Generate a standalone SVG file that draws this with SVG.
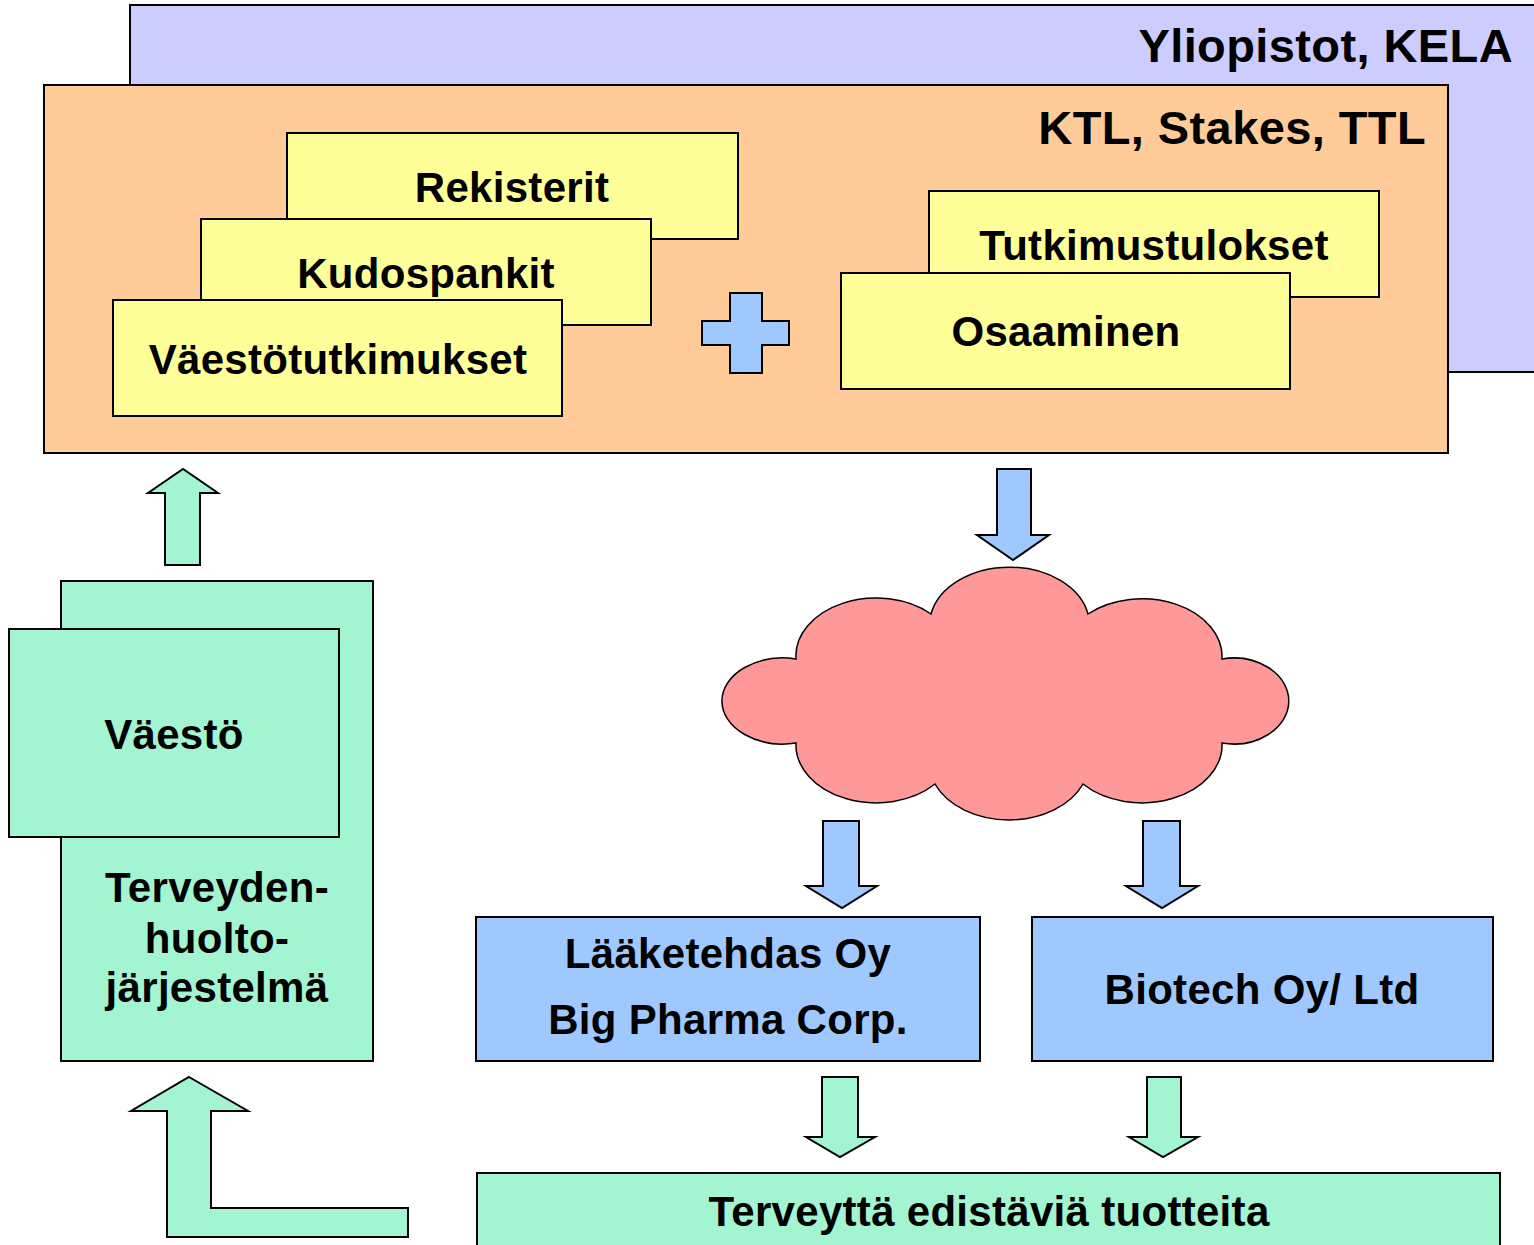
<svg xmlns="http://www.w3.org/2000/svg" width="1534" height="1245" viewBox="0 0 1534 1245">
<style>
text{font-family:"Liberation Sans",Arial,sans-serif;font-weight:bold;fill:#000;}
.t42{font-size:42px;text-anchor:middle;letter-spacing:0.3px;}
.t47{font-size:47px;text-anchor:end;letter-spacing:0.4px;}
.box{stroke:#000;stroke-width:2;}
.yel{fill:#FFFF99;}
.blue{fill:#9FC8FF;}
.green{fill:#A3F4D1;}
.arrow{stroke:#000;stroke-width:2;stroke-linejoin:miter;}
</style>
<rect width="1534" height="1245" fill="#fff"/>
<g id="yliopistot">
<rect class="box" x="130" y="5" width="1420" height="367" fill="#CCCCFF"/>
<text class="t47" x="1513" y="62">Yliopistot, KELA</text>
</g>
<g id="ktl">
<rect class="box" x="44" y="85" width="1404" height="368" fill="#FFCC99"/>
<text class="t47" x="1426" y="144">KTL, Stakes, TTL</text>
</g>
<g id="rekisterit">
<rect class="box yel" x="287" y="133" width="451" height="106"/>
<text class="t42" x="512" y="202">Rekisterit</text>
</g>
<g id="kudospankit">
<rect class="box yel" x="201" y="219" width="450" height="106"/>
<text class="t42" x="426" y="288">Kudospankit</text>
</g>
<g id="vaestotutkimukset">
<rect class="box yel" x="113" y="300" width="449" height="116"/>
<text class="t42" x="338" y="374">Väestötutkimukset</text>
</g>
<g id="plus">
<path class="box blue" d="M730,293 H762 V321 H789 V345 H762 V373 H730 V345 H702 V321 H730 Z"/>
</g>
<g id="tutkimustulokset">
<rect class="box yel" x="929" y="191" width="450" height="106"/>
<text class="t42" x="1154" y="260">Tutkimustulokset</text>
</g>
<g id="osaaminen">
<rect class="box yel" x="841" y="273" width="449" height="116"/>
<text class="t42" x="1066" y="346">Osaaminen</text>
</g>
<g id="cloud">
<path fill="#FF9999" stroke="#000" stroke-width="1.5" d="M796,659 A80,58 0 0 1 931,614 A80,58 0 0 1 1088,614 A80,58 0 0 1 1222,659 A55,43 0 1 1 1222,743 A80,58 0 0 1 1083,784 A80,58 0 0 1 935,784 A80,58 0 0 1 796,743 A61,43 0 1 1 796,659 Z"/>
</g>
<g id="vaesto-group">
<rect class="box green" x="61" y="581" width="312" height="480"/>
<text class="t42" x="217" y="902">Terveyden-</text>
<text class="t42" x="217" y="953">huolto-</text>
<text class="t42" x="217" y="1002">järjestelmä</text>
</g>
<g id="vaesto">
<rect class="box green" x="9" y="629" width="330" height="208"/>
<text class="t42" x="174" y="749">Väestö</text>
</g>
<g id="laaketehdas">
<rect class="box blue" x="476" y="917" width="504" height="144"/>
<text class="t42" x="728" y="968">Lääketehdas Oy</text>
<text class="t42" x="728" y="1034">Big Pharma Corp.</text>
</g>
<g id="biotech">
<rect class="box blue" x="1032" y="917" width="461" height="144"/>
<text class="t42" x="1262" y="1004">Biotech Oy/ Ltd</text>
</g>
<g id="tuotteita">
<rect class="box green" x="477" y="1173" width="1023" height="90"/>
<text class="t42" x="989" y="1226">Terveyttä edistäviä tuotteita</text>
</g>
<g id="connectors">
<path class="arrow blue" d="M997,469 H1031 V535 H1049 L1013,560 L977,535 H997 Z"/>
<path class="arrow blue" d="M823,821 H859 V886 H877 L842,908 L806,886 H823 Z"/>
<path class="arrow blue" d="M1143,821 H1180 V886 H1198 L1162,908 L1126,886 H1143 Z"/>
<path class="arrow green" d="M822,1077 H858 V1137 H875 L840,1157 L806,1137 H822 Z"/>
<path class="arrow green" d="M1147,1077 H1181 V1137 H1198 L1163,1157 L1129,1137 H1147 Z"/>
<path class="arrow green" d="M165,565 V493 H148 L183,469 L218,493 H200 V565 Z"/>
<path class="arrow green" d="M189,1077 L248,1111 H211 V1208 H408 V1237 H167 V1111 H131 Z"/>
</g>
</svg>
